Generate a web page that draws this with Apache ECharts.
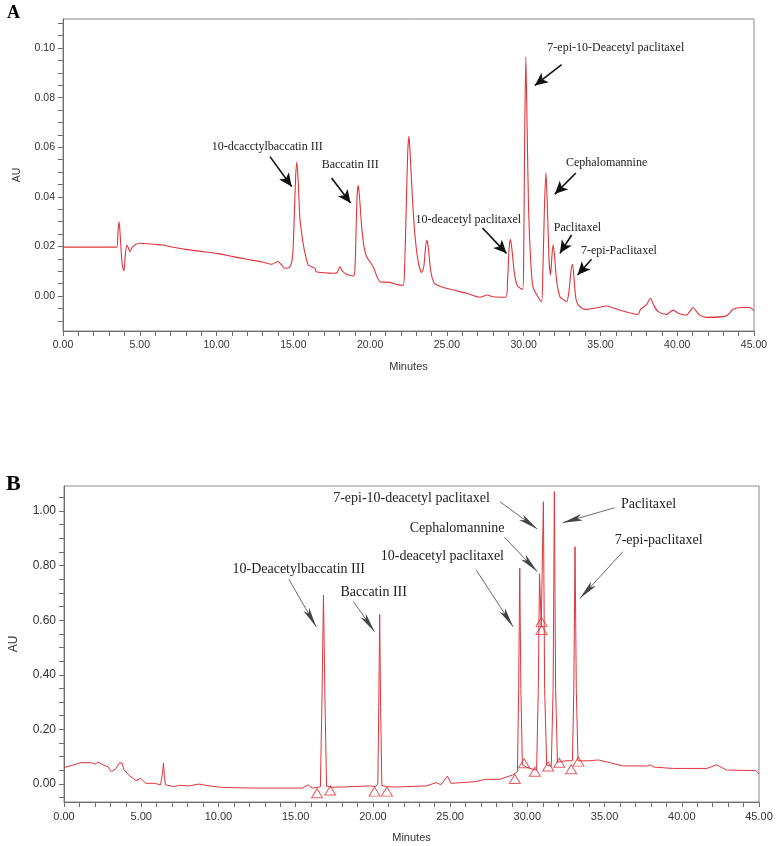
<!DOCTYPE html>
<html>
<head>
<meta charset="utf-8">
<script src="https://cdn.jsdelivr.net/npm/echarts@6/dist/echarts.min.js"></script>
<style>
  html, body { margin: 0; padding: 0; background: #fff; }
  #chart { width: 780px; height: 846px; }
</style>
</head>
<body>
<div id="chart"></div>
<script>
// Panel A chromatogram (minutes, AU)
const timeA = [0, 3.5, 3.58, 3.65, 3.75, 3.85, 3.97, 4.05, 4.15, 4.25, 4.36, 4.5, 4.7, 5.0, 6.0, 6.5, 7.0, 8.0, 9.0, 10.0,
  11.0, 12.0, 13.0, 13.6, 14.0, 14.2, 14.45, 14.78, 14.95, 15.05, 15.15, 15.23, 15.32, 15.42, 15.54, 15.7, 15.85, 15.97,
  16.2, 16.4, 16.5, 17.0, 17.6, 17.85, 18.03, 18.2, 18.47, 18.9, 19.0, 19.08, 19.15, 19.23, 19.32, 19.45, 19.6, 19.77,
  20.2, 20.64, 21.3, 21.9, 22.16, 22.25, 22.35, 22.45, 22.53, 22.62, 22.75, 22.9, 23.1, 23.35, 23.5, 23.6, 23.7, 23.8,
  23.95, 24.2, 24.98, 26.28, 27.15, 27.62, 28.0, 28.84, 28.95, 29.05, 29.14, 29.25, 29.4, 29.6, 29.93, 30.0, 30.06,
  30.14, 30.22, 30.32, 30.45, 30.6, 30.9, 31.16, 31.25, 31.35, 31.45, 31.55, 31.65, 31.75, 31.85, 31.92, 32.0, 32.15,
  32.36, 32.6, 32.8, 32.95, 33.08, 33.18, 33.28, 33.4, 33.55, 33.98, 34.7, 35.4, 36.26, 37.45, 37.6, 37.78, 38.0, 38.26,
  38.45, 38.76, 39.3, 39.73, 40.1, 40.6, 40.85, 41.03, 41.25, 41.47, 41.9, 43.2, 43.64, 44.2, 44.73, 45];
const auA = [0.0197, 0.0197, 0.026, 0.030, 0.022, 0.013, 0.0101, 0.016, 0.0206, 0.0195, 0.0179, 0.0195, 0.0207, 0.0213,
  0.0208, 0.0206, 0.0199, 0.0188, 0.0180, 0.0172, 0.0160, 0.0148, 0.0137, 0.0128, 0.0139, 0.0128, 0.0112, 0.0118, 0.016,
  0.030, 0.048, 0.054, 0.046, 0.032, 0.0254, 0.019, 0.015, 0.0125, 0.0118, 0.0112, 0.0098, 0.0094, 0.0092, 0.0094, 0.0118,
  0.0100, 0.0088, 0.0081, 0.0095, 0.025, 0.040, 0.0446, 0.039, 0.028, 0.020, 0.0159, 0.0118, 0.0058, 0.0055, 0.0044,
  0.0044, 0.012, 0.035, 0.058, 0.0644, 0.056, 0.040, 0.026, 0.015, 0.0094, 0.012, 0.019, 0.0226, 0.019, 0.010, 0.0051,
  0.0031, 0.0011, -0.0005, 0.0004, -0.0003, -0.0005, 0.006, 0.019, 0.0229, 0.018, 0.009, 0.004, 0.0027, 0.015, 0.060,
  0.0964, 0.070, 0.035, 0.015, 0.0038, 0.0, -0.0023, 0.010, 0.035, 0.0498, 0.035, 0.015, 0.0085, 0.017, 0.0206, 0.017,
  0.006, -0.0003, -0.0015, -0.0023, 0.002, 0.010, 0.0128, 0.007, -0.001, -0.0036, -0.0054, -0.0048, -0.004, -0.0057,
  -0.0074, -0.0055, -0.0046, -0.0035, -0.0009, -0.0035, -0.0063, -0.0074, -0.0057, -0.0070, -0.0077, -0.0060, -0.0046,
  -0.0062, -0.0077, -0.0086, -0.008, -0.0053, -0.0046, -0.0046, -0.006];

// Panel B chromatogram (minutes, AU)
const timeB = [0, 0.5, 1.08, 1.72, 2.04, 2.2, 2.52, 2.84, 3.06, 3.38, 3.55, 3.64, 3.75, 3.89, 4.27, 4.66, 4.97, 5.29, 5.87,
  6.25, 6.38, 6.44, 6.5, 6.57, 7.14, 7.46, 8.1, 8.74, 9.38, 10.33, 12.24, 15.43, 15.82, 16.07, 16.39, 16.6, 16.7, 16.8,
  16.9, 17.0, 17.3, 18.04, 19.8, 20.15, 20.32, 20.38, 20.44, 20.5, 20.58, 20.9, 21.55, 23.46, 24.1, 24.4, 24.83, 25.05,
  26.64, 27.28, 28.24, 28.56, 29.04, 29.36, 29.44, 29.51, 29.58, 29.68, 30.0, 30.6, 30.71, 30.79, 30.9, 31.04, 31.12,
  31.25, 31.55, 31.67, 31.75, 31.83, 31.95, 32.5, 32.92, 33.01, 33.09, 33.17, 33.28, 34.0, 34.6, 35.2, 36.2, 37.8, 37.95,
  38.2, 39.4, 41.63, 42.26, 42.9, 44.8, 45];
const auB = [0.060, 0.068, 0.078, 0.078, 0.073, 0.081, 0.070, 0.0635, 0.045, 0.057, 0.075, 0.081, 0.078, 0.051, 0.029,
  0.0122, 0.0208, 0.0024, 0.0024, -0.003, 0.04, 0.0757, 0.03, -0.003, -0.0098, -0.005, -0.007, -0.0001, -0.007, -0.013,
  -0.015, -0.015, -0.003, -0.015, -0.013, -0.01, 0.30, 0.692, 0.30, -0.008, -0.012, -0.011, -0.007, -0.01, 0.0, 0.28,
  0.621, 0.28, -0.005, -0.01, -0.011, -0.007, 0.005, -0.003, 0.029, 0.0024, 0.0085, 0.017, 0.017, 0.024, 0.0325, 0.045,
  0.35, 0.79, 0.35, 0.07, 0.06, 0.05, 0.35, 0.77, 0.58, 1.034, 0.35, 0.07, 0.065, 0.35, 1.071, 0.35, 0.08, 0.085, 0.085,
  0.35, 0.869, 0.35, 0.085, 0.085, 0.088, 0.08, 0.066, 0.066, 0.07, 0.062, 0.057, 0.057, 0.070, 0.051, 0.049, 0.037];

// integration markers in panel B
const markTimeB = [16.38, 17.24, 20.11, 20.91, 29.19, 29.79, 30.49, 30.92, 30.92, 31.35, 32.07, 32.84, 33.31];
const markAuB = [-0.034, -0.024, -0.028, -0.028, 0.018, 0.076, 0.045, 0.594, 0.564, 0.064, 0.078, 0.054, 0.082];

// annotations: label text, label position, arrow start, arrow end
const namesA = ['10-dcacctylbaccatin III', 'Baccatin III', '10-deacetyl paclitaxel', '7-epi-10-Deacetyl paclitaxel',
  'Cephalomannine', 'Paclitaxel', '7-epi-Paclitaxel'];
const labelPosA = [[13.3, 0.0603], [18.7, 0.0530], [26.4, 0.0307], [36.0, 0.1000], [35.4, 0.0536], [33.5, 0.0273], [36.2, 0.0184]];
const arrowFromA = [[13.48, 0.0562], [17.49, 0.0476], [27.32, 0.0274], [32.47, 0.0933], [33.40, 0.0496], [33.12, 0.0246], [34.42, 0.0148]];
const arrowToA = [[14.89, 0.0442], [18.73, 0.0375], [28.88, 0.0172], [30.73, 0.0849], [32.03, 0.0411], [32.36, 0.0172], [33.51, 0.0085]];

const namesB = ['10-Deacetylbaccatin III', 'Baccatin III', '10-deacetyl paclitaxel', 'Cephalomannine',
  '7-epi-10-deacetyl paclitaxel', 'Paclitaxel', '7-epi-paclitaxel'];
const labelPosB = [[15.2, 0.786], [20.05, 0.701], [24.5, 0.834], [25.45, 0.937], [22.5, 1.048], [37.85, 1.023], [38.5, 0.891]];
const arrowFromB = [[14.56, 0.750], [18.74, 0.668], [26.69, 0.784], [28.51, 0.904], [28.23, 1.034], [35.66, 1.012], [36.19, 0.851]];
const arrowToB = [[16.33, 0.576], [20.11, 0.558], [29.08, 0.576], [30.64, 0.778], [30.64, 0.934], [32.29, 0.957], [33.41, 0.680]];

const yLabelsA = [0, 0.02, 0.04, 0.06, 0.08, 0.10];
const yLabelsB = [0, 0.2, 0.4, 0.6, 0.8, 1.0];

const red = '#e0343c';
const axisGray = '#6e6e6e';
const sans = 'Liberation Sans, Arial, sans-serif';
const serif = 'Liberation Serif, Times New Roman, serif';

function steps(from, to, step) {
  const out = [];
  for (let v = from; v <= to + 1e-9; v += step) out.push(+v.toFixed(4));
  return out;
}

function zip(xs, ys) {
  return xs.map((x, i) => [x, ys[i]]);
}

function yAxis(idx, min, max, labels, minorStep, size, gap) {
  return {
    type: 'value', gridIndex: idx, min: min, max: max,
    name: 'AU', nameLocation: 'middle', nameGap: gap,
    nameTextStyle: { color: '#333', fontFamily: sans, fontSize: size },
    axisLine: { show: true, lineStyle: { color: axisGray } },
    axisTick: { show: true, length: 5, customValues: steps(Math.ceil(min / minorStep) * minorStep, max, minorStep), lineStyle: { color: axisGray } },
    axisLabel: { customValues: labels, margin: 8, color: '#333', fontFamily: sans, fontSize: size, formatter: (v) => v.toFixed(2) },
    splitLine: { show: false },
  };
}

function xAxis(idx, size) {
  return {
    type: 'value', gridIndex: idx, min: 0, max: 45, interval: 5,
    name: 'Minutes', nameLocation: 'middle', nameGap: 30,
    nameTextStyle: { color: '#333', fontFamily: sans, fontSize: 11 },
    axisLine: { show: true, onZero: false, lineStyle: { color: axisGray } },
    axisTick: { show: true, length: 5, lineStyle: { color: axisGray } },
    minorTick: { show: true, splitNumber: 5, length: 5, lineStyle: { color: axisGray } },
    axisLabel: { margin: 9, color: '#333', fontFamily: sans, fontSize: size, formatter: (v) => v.toFixed(2) },
    splitLine: { show: false },
  };
}

function annotations(names, pos, from, to, fontSize, arrow) {
  return {
    markPoint: {
      silent: true, symbol: 'circle', symbolSize: 0, animation: false,
      label: { show: true, position: 'inside', color: '#222', fontFamily: serif, fontSize: fontSize },
      data: names.map((n, i) => ({ coord: pos[i], value: 0, label: { formatter: n } })),
    },
    markLine: {
      silent: true, animation: false,
      symbol: ['none', 'arrow'], symbolSize: arrow.head,
      label: { show: false },
      lineStyle: { color: arrow.color, width: arrow.width, type: 'solid' },
      emphasis: { disabled: true },
      data: from.map((f, i) => [{ coord: f }, { coord: to[i] }]),
    },
  };
}

const chart = echarts.init(document.getElementById('chart'), null, { renderer: 'canvas' });

chart.setOption({
  animation: false,
  backgroundColor: '#fff',
  grid: [
    { left: 63, top: 19, right: 26, bottom: 515, show: true, borderColor: '#8a8a8a', borderWidth: 1 },
    { left: 57, top: 486, right: 21, bottom: 44, show: true, borderColor: '#8a8a8a', borderWidth: 1 },
  ],
  graphic: [
    { type: 'text', left: 7, top: 4, style: { text: 'A', font: 'bold 18px ' + serif, fill: '#000' } },
    { type: 'text', left: 6, top: 473, style: { text: 'B', font: 'bold 22px ' + serif, fill: '#000' } },
  ],
  xAxis: [xAxis(0, 10.5), xAxis(1, 11)],
  yAxis: [
    yAxis(0, -0.0141, 0.1117, yLabelsA, 0.005, 10.5, 40),
    yAxis(1, -0.066, 1.0916, yLabelsB, 0.05, 12, 44),
  ],
  series: [
    Object.assign({
      type: 'line', xAxisIndex: 0, yAxisIndex: 0, data: zip(timeA, auA),
      showSymbol: false, smooth: 0.25, lineStyle: { color: red, width: 1.1 },
    }, annotations(namesA, labelPosA, arrowFromA, arrowToA, 12, { head: [9, 13], color: '#111', width: 1.6 })),
    Object.assign({
      type: 'line', xAxisIndex: 1, yAxisIndex: 1, data: zip(timeB, auB),
      showSymbol: false, smooth: false, lineStyle: { color: red, width: 1 },
    }, annotations(namesB, labelPosB, arrowFromB, arrowToB, 14, { head: [5, 20], color: '#444', width: 0.8 })),
    {
      type: 'scatter', xAxisIndex: 1, yAxisIndex: 1, data: zip(markTimeB, markAuB),
      symbol: 'triangle', symbolSize: [11, 9], silent: true,
      itemStyle: { color: 'rgba(255,255,255,0)', borderColor: red, borderWidth: 1 },
    },
  ],
});
</script>
</body>
</html>
